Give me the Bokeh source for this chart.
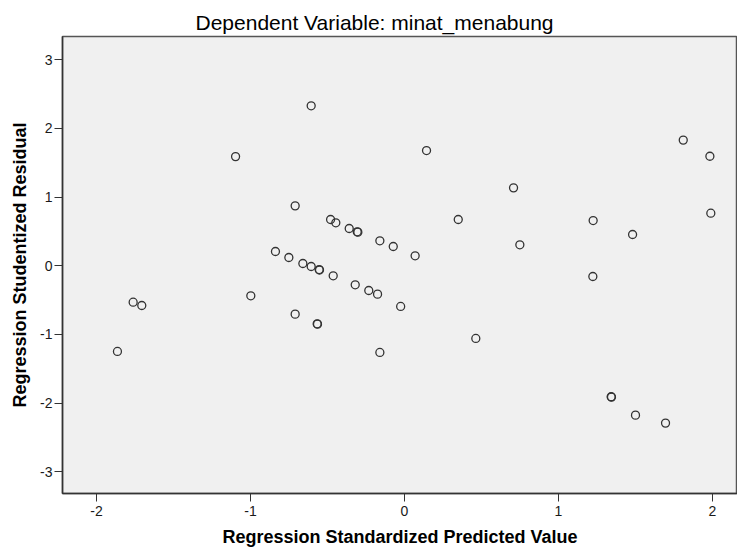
from bokeh.plotting import figure
from bokeh.models import FixedTicker, Range1d
from bokeh.embed import file_html
from bokeh.resources import INLINE

# Regression Standardized Predicted Value
predicted = [-0.606, -1.097, -0.710, -0.480, -0.446, -0.359, -0.307, -0.303,
             -0.160, -0.073, -0.838, -0.751, -0.660, -0.606, -0.554, -0.552,
             -0.463, -0.320, -0.232, -0.175, -0.025, -0.998, -1.762, -1.706,
             -1.864, -0.710, -0.567, -0.565, -0.160, 0.143, 1.810, 1.983,
             0.708, 0.349, 1.225, 1.989, 0.069, 0.749, 1.481, 1.223,
             0.463, 1.342, 1.344, 1.500, 1.695]
# Regression Studentized Residual
residual = [2.330, 1.590, 0.873, 0.674, 0.626, 0.543, 0.495, 0.490,
            0.364, 0.281, 0.208, 0.121, 0.033, -0.010, -0.055, -0.062,
            -0.146, -0.277, -0.360, -0.413, -0.592, -0.437, -0.530, -0.578,
            -1.247, -0.704, -0.845, -0.850, -1.262, 1.678, 1.830, 1.595,
            1.135, 0.674, 0.659, 0.766, 0.145, 0.306, 0.456, -0.156,
            -1.058, -1.907, -1.912, -2.175, -2.291]

x_ticks = [-2, -1, 0, 1, 2]
y_ticks = [-3, -2, -1, 0, 1, 2, 3]
x_tick_labels = ["-2", "-1", "0", "1", "2"]
y_tick_labels = ["-3", "-2", "-1", "0", "1", "2", "3"]

title_text = "Dependent Variable: minat_menabung"
x_label = "Regression Standardized Predicted Value"
y_label = "Regression Studentized Residual"

FONT = "Liberation Sans"

p = figure(width=737, height=549, output_backend="svg", toolbar_location=None,
           x_range=Range1d(-2.2208, 2.1623), y_range=Range1d(-3.316, 3.339),
           min_border_left=62, min_border_right=0, min_border_top=36,
           min_border_bottom=56, background_fill_color="#f0f0f0",
           border_fill_color="white", outline_line_color="#555555",
           outline_line_width=1.5)

p.title.text = title_text
p.title.text_font = FONT
p.title.text_font_size = "21px"
p.title.text_font_style = "normal"
p.title.text_color = "#000000"
p.title.align = "left"
p.title.offset = 133
p.title.standoff = 5

p.scatter(predicted, residual, marker="circle", size=8, fill_color=None,
          line_color="#333333", line_width=1.3)

p.xgrid.visible = False
p.ygrid.visible = False

for ax, ticks, labels, lab in ((p.xaxis[0], x_ticks, x_tick_labels, x_label),
                               (p.yaxis[0], y_ticks, y_tick_labels, y_label)):
    ax.ticker = FixedTicker(ticks=ticks)
    ax.major_label_overrides = {t: s for t, s in zip(ticks, labels)}
    ax.minor_tick_line_color = None
    ax.major_tick_in = 0
    ax.major_tick_out = 8
    ax.major_tick_line_color = "#333333"
    ax.axis_line_color = "#333333"
    ax.axis_line_width = 1.5
    ax.major_label_text_font = FONT
    ax.major_label_text_font_size = "14px"
    ax.major_label_text_color = "#1a1a1a"
    ax.major_label_standoff = 2
    ax.axis_label = lab
    ax.axis_label_text_font = FONT
    ax.axis_label_text_font_size = "18px"
    ax.axis_label_text_font_style = "bold"
    ax.axis_label_text_color = "#000000"

p.xaxis[0].major_label_standoff = 4
p.xaxis[0].axis_label_standoff = 8
p.yaxis[0].axis_label_standoff = 7
p.yaxis[0].major_label_orientation = "horizontal"

open("out.html", "w").write(file_html(p, INLINE))
